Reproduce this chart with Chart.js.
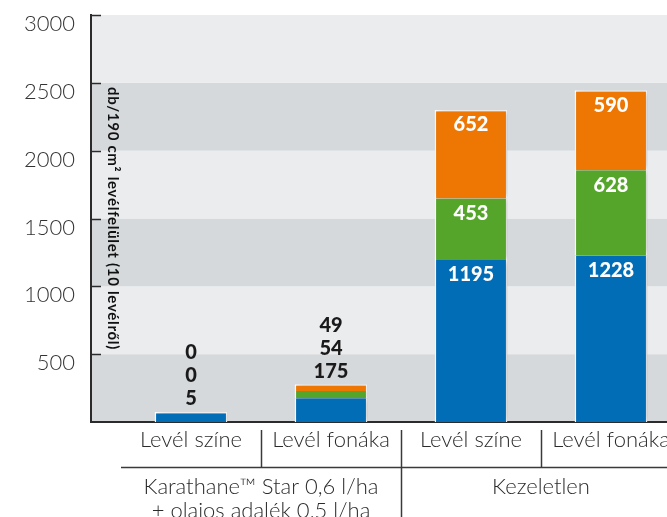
<!DOCTYPE html>
<html>
<head>
<meta charset="utf-8">
<script src="https://cdn.jsdelivr.net/npm/chart.js@4.4.1/dist/chart.umd.min.js"></script>
<style>
    html, body { margin: 0; padding: 0; background: #fff; }
    #chart-wrap { width: 667px; height: 517px; }
</style>
</head>
<body>
<div id="chart-wrap"><canvas id="myChart" width="667" height="517"></canvas></div>
<script>
// x axis, lower row and upper (group) row
var categories = ['Levél színe', 'Levél fonáka', 'Levél színe', 'Levél fonáka'];
var groupLabels = [['Karathane™ Star 0,6 l/ha', '+ olajos adalék 0,5 l/ha'], ['Kezeletlen']];
var groupSizes = [2, 2];

// stacked series (bottom to top)
var blueValues = [5, 175, 1195, 1228];
var greenValues = [0, 54, 453, 628];
var orangeValues = [0, 49, 652, 590];

// y axis
var yTickValues = [0, 500, 1000, 1500, 2000, 2500, 3000];
var yTitle = 'db/190 cm² levélfelület (10 levélről)';

var allSeries = [blueValues, greenValues, orangeValues];
var seriesColors = ['#006db6', '#55a52b', '#ee7703'];

/******************************************************/
// helpers
function toPoints(values) {
    return values.map(function (v, i) { return { x: i + 1, y: v }; });
}

// white outline only around the outside of each stack
function outline(dsIndex) {
    return function (ctx) {
        var i = ctx.dataIndex;
        var topDs = 0;
        for (var d = 0; d < allSeries.length; d++) {
            if (allSeries[d][i] > 0) topDs = d;
        }
        return { left: 1.5, right: 1.5, top: dsIndex === topDs ? 1.5 : 0, bottom: 0 };
    };
}

/******************************************************/
// background bands + inward tick marks
var bandsPlugin = {
    id: 'bands',
    beforeDraw: function (chart) {
        var c = chart.ctx, area = chart.chartArea, y = chart.scales.y;
        c.save();
        for (var i = 0; i < yTickValues.length - 1; i++) {
            var y0 = y.getPixelForValue(yTickValues[i]);
            var y1 = y.getPixelForValue(yTickValues[i + 1]);
            c.fillStyle = (i % 2 === 0) ? '#d6d9dc' : '#ebecee';
            c.fillRect(area.left, y1, area.right - area.left, y0 - y1);
        }
        c.restore();
    },
    afterDraw: function (chart) {
        var c = chart.ctx, area = chart.chartArea, y = chart.scales.y;
        c.save();
        c.strokeStyle = '#2b2b2b';
        c.lineWidth = 1.5;
        yTickValues.forEach(function (v) {
            if (v === 0) return;
            var py = Math.round(y.getPixelForValue(v)) + 0.5;
            c.beginPath();
            c.moveTo(area.left, py);
            c.lineTo(area.left + 10, py);
            c.stroke();
        });

        // rotated y title inside the plot
        c.translate(area.left + 22, (area.top + area.bottom) / 2);
        c.rotate(Math.PI / 2);
        c.fillStyle = '#111';
        c.font = 'bold 15px Lato';
        c.letterSpacing = '0.7px';
        c.textAlign = 'center';
        c.textBaseline = 'middle';
        c.fillText(yTitle, 0, 0);
        c.restore();
    }
};

/******************************************************/
// soft shadow behind bars + value labels
var barsPlugin = {
    id: 'barsExtra',
    beforeDatasetsDraw: function (chart) {
        var c = chart.ctx;
        c.save();
        c.shadowColor = 'rgba(0,0,0,0.2)';
        c.shadowBlur = 7;
        c.shadowOffsetX = 3;
    },
    afterDatasetsDraw: function (chart) {
        var c = chart.ctx;
        c.restore();
        c.save();
        c.font = '900 20px Lato';
        c.textAlign = 'center';
        c.textBaseline = 'middle';
        categories.forEach(function (cat, i) {
            var els = allSeries.map(function (s, d) { return chart.getDatasetMeta(d).data[i]; });
            var total = allSeries.reduce(function (sum, s) { return sum + s[i]; }, 0);
            if (total < 1000) {
                // small stacks: labels piled above the bar
                var topY = Math.min.apply(null, els.map(function (el) { return el.y; }));
                c.fillStyle = '#1a1a1a';
                allSeries.forEach(function (s, d) {
                    c.fillText(String(s[i]), els[0].x, topY - 13 - d * 23);
                });
            } else {
                c.fillStyle = '#ffffff';
                allSeries.forEach(function (s, d) {
                    c.fillText(String(s[i]), els[d].x, els[d].y + 15);
                });
            }
        });
        c.restore();
    }
};

/******************************************************/
// two level x axis labels
var xLabelsPlugin = {
    id: 'xLabels',
    afterDraw: function (chart) {
        var c = chart.ctx, area = chart.chartArea, x = chart.scales.x;
        var base = area.bottom;
        c.save();
        c.fillStyle = '#2b2b2b';
        c.strokeStyle = '#3a3a3a';
        c.lineWidth = 1.5;
        c.font = '300 22px Lato';
        c.textAlign = 'center';
        c.textBaseline = 'middle';

        categories.forEach(function (cat, i) {
            c.fillText(cat, x.getPixelForValue(i + 1), base + 18);
        });

        // separators between categories
        var groupEnds = [];
        var acc = 0;
        groupSizes.forEach(function (n) { acc += n; groupEnds.push(acc); });
        for (var i = 1; i < categories.length; i++) {
            var px = Math.round(x.getPixelForValue(i + 0.5)) + 0.5;
            var isGroupEnd = groupEnds.indexOf(i) !== -1;
            c.beginPath();
            c.moveTo(px, base + 8);
            c.lineTo(px, isGroupEnd ? chart.height : base + 45);
            c.stroke();
        }

        // line between the two rows
        c.beginPath();
        c.moveTo(x.getPixelForValue(0.5), base + 45.5);
        c.lineTo(area.right, base + 45.5);
        c.stroke();

        // group labels
        var start = 0;
        groupLabels.forEach(function (lines, g) {
            var end = start + groupSizes[g];
            var cx = (x.getPixelForValue(start + 0.5) + x.getPixelForValue(end + 0.5)) / 2;
            lines.forEach(function (line, k) {
                c.fillText(line, cx, base + 65 + k * 24);
            });
            start = end;
        });
        c.restore();
    }
};

/******************************************************/
// Chart
var ctx = document.getElementById('myChart').getContext('2d');
var myChart = new Chart(ctx, {
    type: 'bar',
    data: {
        datasets: allSeries.map(function (values, d) {
            return {
                label: 'series' + (d + 1),
                data: toPoints(values),
                backgroundColor: seriesColors[d],
                borderColor: '#ffffff',
                borderWidth: outline(d),
                borderSkipped: 'start',
                minBarLength: d === 0 ? 10 : 0,
                categoryPercentage: 1,
                barPercentage: 0.52
            };
        })
    },
    options: {
        responsive: false,
        animation: false,
        layout: { padding: { top: 15, right: 0, left: 0, bottom: 0 } },
        plugins: {
            legend: { display: false },
            tooltip: { enabled: false }
        },
        scales: {
            x: {
                type: 'linear',
                stacked: true,
                offset: false,
                min: 0.2857,
                max: 4.4,
                grid: { display: false, offset: false },
                border: { display: true, color: '#2b2b2b', width: 2 },
                ticks: { display: false },
                afterBuildTicks: function (scale) {
                    scale.ticks = categories.map(function (c, i) { return { value: i + 1 }; });
                },
                afterFit: function (scale) {
                    scale.height = 95;
                    scale.paddingLeft = 0;
                    scale.paddingRight = 0;
                }
            },
            y: {
                stacked: true,
                min: 0,
                max: 3000,
                grid: { display: false, drawTicks: false },
                border: { display: true, color: '#2b2b2b', width: 2 },
                afterBuildTicks: function (scale) {
                    scale.ticks = yTickValues.map(function (v) { return { value: v }; });
                },
                ticks: {
                    padding: 16,
                    labelOffset: 9,
                    color: '#333',
                    font: { family: 'Lato', size: 22, weight: '300' },
                    callback: function (v) { return v === 0 ? '' : String(v); }
                },
                afterFit: function (scale) {
                    scale.width = 91;
                    scale.paddingTop = 0;
                    scale.paddingBottom = 0;
                }
            }
        }
    },
    plugins: [bandsPlugin, barsPlugin, xLabelsPlugin]
});
</script>
</body>
</html>
